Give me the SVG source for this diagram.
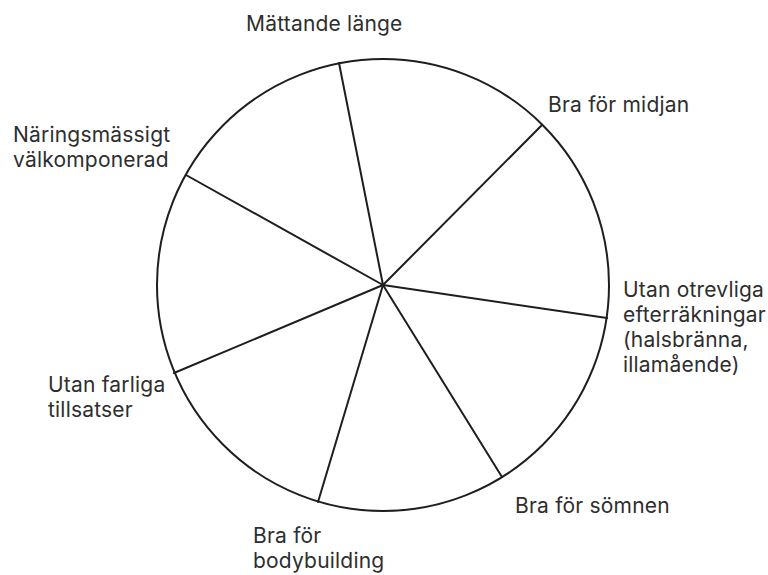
<svg xmlns="http://www.w3.org/2000/svg" width="768" height="575" viewBox="0 0 768 575">
<style>
.lbl{font-family:Inter,Lato,"Liberation Sans",sans-serif;font-size:21px;letter-spacing:0.2px;fill:#2e2e2e}
.ln{stroke:#1e1e1e;stroke-width:2;fill:none;stroke-linecap:round}
</style>
<rect width="768" height="575" fill="#fff"/>
<g id="connectors">
<circle class="ln" cx="383" cy="285" r="226"/>
<line class="ln" x1="383" y1="285" x2="339" y2="63"/>
<line class="ln" x1="383" y1="285" x2="542" y2="125"/>
<line class="ln" x1="383" y1="285" x2="607" y2="318"/>
<line class="ln" x1="383" y1="285" x2="502" y2="477"/>
<line class="ln" x1="383" y1="285" x2="318" y2="502"/>
<line class="ln" x1="383" y1="285" x2="174" y2="373"/>
<line class="ln" x1="383" y1="285" x2="186" y2="175"/>
</g>
<g id="n1"><text class="lbl" x="246" y="31">Mättande länge</text></g>
<g id="n2"><text class="lbl" x="548" y="112">Bra för midjan</text></g>
<g id="n3"><text class="lbl" x="623" y="297">Utan otrevliga</text><text class="lbl" x="623" y="322">efterräkningar</text><text class="lbl" x="623" y="347">(halsbränna,</text><text class="lbl" x="623" y="372">illamående)</text></g>
<g id="n4"><text class="lbl" x="515" y="513">Bra för sömnen</text></g>
<g id="n5"><text class="lbl" x="253" y="543">Bra för</text><text class="lbl" x="253" y="568">bodybuilding</text></g>
<g id="n6"><text class="lbl" x="48" y="392">Utan farliga</text><text class="lbl" x="48" y="417">tillsatser</text></g>
<g id="n7"><text class="lbl" x="13" y="142">Näringsmässigt</text><text class="lbl" x="13" y="167">välkomponerad</text></g>
</svg>
